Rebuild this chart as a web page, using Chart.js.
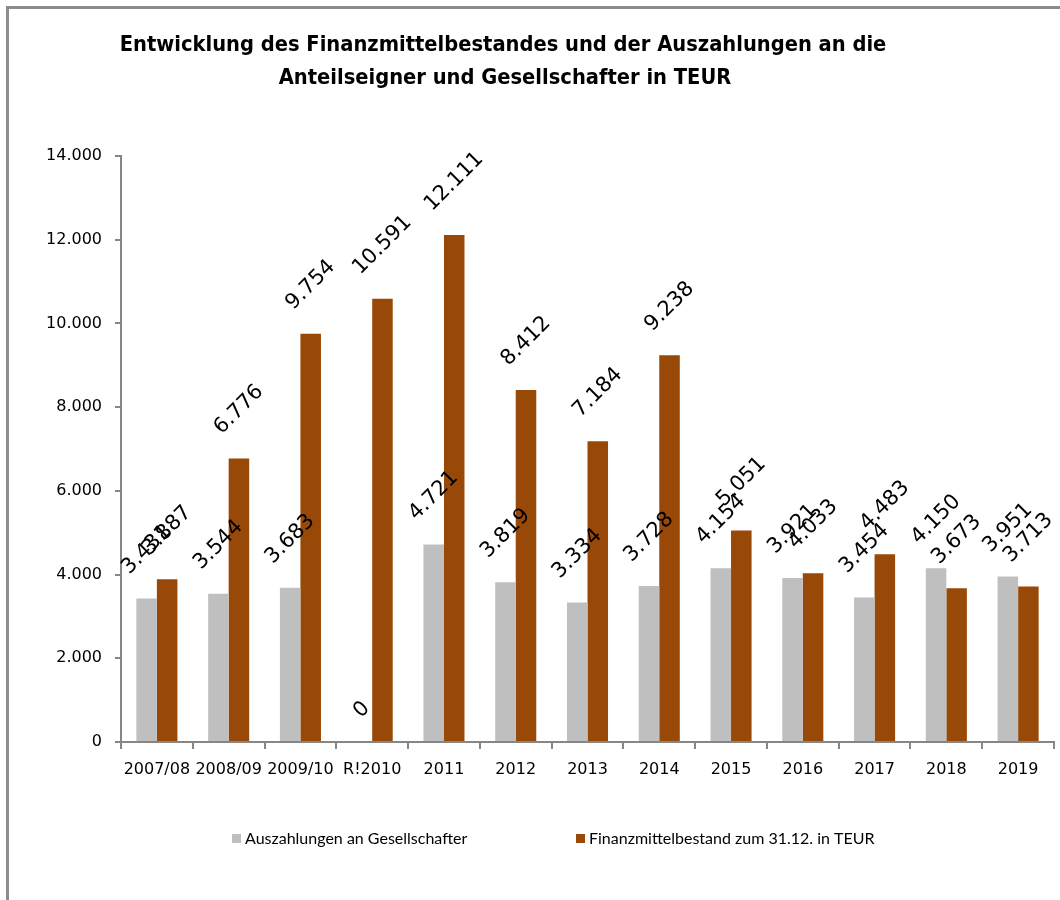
<!DOCTYPE html>
<html>
<head>
<meta charset="utf-8">
<style>
  html, body { margin: 0; padding: 0; background: #ffffff; }
  #wrap { width: 1060px; height: 900px; position: relative; }
</style>
<script src="https://cdn.jsdelivr.net/npm/chart.js@4.4.1/dist/chart.umd.min.js"></script>
</head>
<body>
<div id="wrap"><canvas id="c" width="1060" height="900"></canvas></div>
<script>
// ---- data ----
const categories = ["2007/08", "2008/09", "2009/10", "R!2010", "2011", "2012", "2013", "2014", "2015", "2016", "2017", "2018", "2019"];
const payouts = [3431, 3544, 3683, 0, 4721, 3819, 3334, 3728, 4154, 3921, 3454, 4150, 3951];
const funds = [3887, 6776, 9754, 10591, 12111, 8412, 7184, 9238, 5051, 4033, 4483, 3673, 3713];
const seriesNames = ["Auszahlungen an Gesellschafter", "Finanzmittelbestand zum 31.12. in TEUR"];
const titleLines = ["Entwicklung des Finanzmittelbestandes und der Auszahlungen an die", "Anteilseigner und Gesellschafter in TEUR"];
const yMin = 0, yMax = 14000, yStep = 2000;

function fmtDE(v) {
  return String(Math.round(v)).replace(/\B(?=(\d{3})+(?!\d))/g, ".");
}

const AXIS = "#868686";
const legendX = [232, 576];

const framePlugin = {
  id: "frame",
  beforeDraw(chart) {
    const ctx = chart.ctx;
    ctx.save();
    ctx.fillStyle = "#ffffff";
    ctx.fillRect(0, 0, chart.width, chart.height);
    ctx.fillStyle = "#8c8c8c";
    ctx.fillRect(6, 6, chart.width - 6, 3);
    ctx.fillRect(6, 6, 3, chart.height - 6);
    ctx.restore();
  }
};

const titlePlugin = {
  id: "customTitle",
  afterDraw(chart) {
    const ctx = chart.ctx;
    ctx.save();
    ctx.fillStyle = "#000000";
    ctx.font = "bold 21.7px 'DejaVu Sans Condensed', 'DejaVu Sans', sans-serif";
    ctx.textAlign = "center";
    ctx.textBaseline = "middle";
    ctx.fillText(titleLines[0], 503, 45);
    ctx.fillText(titleLines[1], 505, 78);
    ctx.restore();
  }
};

const legendPlugin = {
  id: "customLegend",
  afterDraw(chart) {
    const ctx = chart.ctx;
    ctx.save();
    ctx.font = "16px Lato, 'DejaVu Sans Condensed', sans-serif";
    ctx.textAlign = "left";
    ctx.textBaseline = "middle";
    chart.data.datasets.forEach((ds, i) => {
      const x = legendX[i];
      ctx.fillStyle = ds.backgroundColor;
      ctx.fillRect(x, 834, 9, 9);
      ctx.fillStyle = "#000000";
      ctx.fillText(ds.label, x + 13, 838.5);
    });
    ctx.restore();
  }
};

const labelPlugin = {
  id: "valueLabels",
  afterDatasetsDraw(chart) {
    const ctx = chart.ctx;
    ctx.save();
    ctx.fillStyle = "#000000";
    ctx.font = "21px 'DejaVu Sans', sans-serif";
    ctx.textAlign = "center";
    ctx.textBaseline = "middle";
    chart.data.datasets.forEach((ds, di) => {
      const meta = chart.getDatasetMeta(di);
      meta.data.forEach((el, i) => {
        const txt = fmtDE(ds.data[i]);
        const w = ctx.measureText(txt).width;
        const h = 21;
        const off = (w + h) / (2 * Math.SQRT2) + 20;
        ctx.save();
        ctx.translate(el.x, el.y - off);
        ctx.rotate(-Math.PI / 4);
        ctx.fillText(txt, 0, 0);
        ctx.restore();
      });
    });
    ctx.restore();
  }
};

new Chart(document.getElementById("c"), {
  type: "bar",
  data: {
    labels: categories,
    datasets: [
      { label: seriesNames[0], data: payouts, backgroundColor: "#BFBFBF", borderWidth: 0,
        categoryPercentage: 0.572, barPercentage: 1.0 },
      { label: seriesNames[1], data: funds, backgroundColor: "#984807", borderWidth: 0,
        categoryPercentage: 0.572, barPercentage: 1.0 }
    ]
  },
  options: {
    responsive: false,
    animation: false,
    devicePixelRatio: 1,
    layout: { padding: { top: 156, left: 10, right: 6, bottom: 74 } },
    plugins: {
      title: { display: false },
      tooltip: { enabled: false },
      legend: { display: false }
    },
    scales: {
      x: {
        border: { color: AXIS, width: 2 },
        grid: { display: true, drawOnChartArea: false, drawTicks: true, tickLength: 7, color: AXIS, lineWidth: 2, offset: true },
        ticks: { color: "#000000", autoSkip: false, maxRotation: 0, minRotation: 0, padding: 11,
                 font: { family: "'DejaVu Sans', sans-serif", size: 16 } },
        afterFit(scale) { scale.height = 84; }
      },
      y: {
        min: yMin,
        max: yMax,
        border: { color: AXIS, width: 2 },
        grid: { display: true, drawOnChartArea: false, drawTicks: true, tickLength: 6, color: AXIS, lineWidth: 2 },
        ticks: { stepSize: yStep, color: "#000000", padding: 13,
                 font: { family: "'DejaVu Sans', sans-serif", size: 16 },
                 callback: (v) => fmtDE(v) },
        afterFit(scale) { scale.width = 111; }
      }
    }
  },
  plugins: [framePlugin, titlePlugin, legendPlugin, labelPlugin]
});
</script>
</body>
</html>
